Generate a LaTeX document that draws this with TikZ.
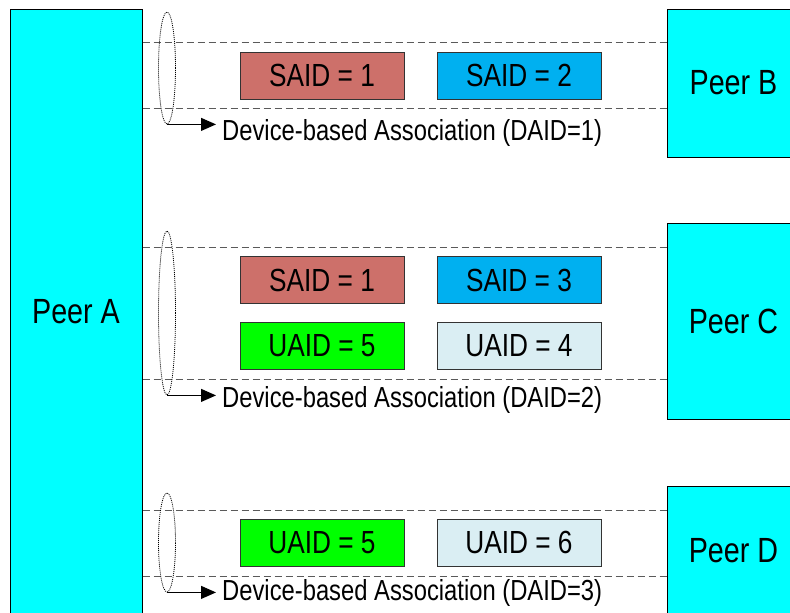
\documentclass[tikz,border=0pt]{standalone}
\usepackage{fontspec}
\setmainfont{Liberation Sans}[FakeStretch=0.82]
\usetikzlibrary{arrows.meta,shapes.geometric}
\definecolor{peercyan}{RGB}{0,255,255}
\definecolor{saidred}{RGB}{205,112,106}
\definecolor{saidblue}{RGB}{0,176,240}
\definecolor{uaidgreen}{RGB}{0,255,0}
\definecolor{uaidlight}{RGB}{218,238,243}
\definecolor{dashgray}{RGB}{90,90,90}
\tikzset{
  peer/.style={draw=black, line width=1pt, fill=peercyan, inner sep=0pt, font=\fontsize{35}{40}\selectfont},
  idbox/.style={draw=black!80, line width=0.8pt, minimum width=164pt, minimum height=47pt, inner sep=0pt, font=\fontsize{32}{36}\selectfont},
  dashline/.style={draw=dashgray, line width=0.9pt, dash pattern=on 7pt off 4pt},
  assoc/.style={ellipse, draw=black, dash pattern=on 1pt off 1pt, line width=0.8pt, minimum width=17pt, inner sep=0pt},
  assocarrow/.style={draw=black, line width=1.1pt, -{Triangle[length=15pt,width=13pt]}},
  assoclabel/.style={anchor=west, inner sep=0pt, font=\fontsize{29}{33}\selectfont}
}
\begin{document}
\begin{tikzpicture}[x=1pt,y=-1pt]
\useasboundingbox (0,0) rectangle (790,613);
\clip (0,0) rectangle (790,613);
% peers
\node[peer, minimum width=132pt, minimum height=606pt] (A) at (76,312) {Peer A};
\node[peer, minimum width=133pt, minimum height=148pt] (B) at (733.5,83) {Peer B};
\node[peer, minimum width=133pt, minimum height=196pt] (C) at (733.5,321) {Peer C};
\node[peer, minimum width=133pt, minimum height=130pt] (D) at (733.5,551) {Peer D};
% dashed line levels
\coordinate (l1) at (0,42);
\coordinate (l2) at (0,108);
\coordinate (l3) at (0,247);
\coordinate (l4) at (0,379);
\coordinate (l5) at (0,510);
\coordinate (l6) at (0,576);
\draw[dashline] (A.east |- l1) -- (B.west |- l1);
\draw[dashline] (A.east |- l2) -- (B.west |- l2);
\draw[dashline] (A.east |- l3) -- (C.west |- l3);
\draw[dashline] (A.east |- l4) -- (C.west |- l4);
\draw[dashline] (A.east |- l5) -- (D.west |- l5);
\draw[dashline] (A.east |- l6) -- (D.west |- l6);
% id boxes
\node[idbox, fill=saidred] (s11) at (322,75.5) {SAID = 1};
\node[idbox, fill=saidblue] (s12) at (519,75.5) {SAID = 2};
\node[idbox, fill=saidred] (s21) at (322,280) {SAID = 1};
\node[idbox, fill=saidblue] (s23) at (519,280) {SAID = 3};
\node[idbox, fill=uaidgreen] (u25) at (322,345.5) {UAID = 5};
\node[idbox, fill=uaidlight] (u24) at (519,345.5) {UAID = 4};
\node[idbox, fill=uaidgreen] (u35) at (322,542.5) {UAID = 5};
\node[idbox, fill=uaidlight] (u36) at (519,542.5) {UAID = 6};
% association ellipses
\node[assoc, minimum height=112pt] (e1) at (167,68) {};
\node[assoc, minimum height=164pt] (e2) at (167,313) {};
\node[assoc, minimum height=99pt] (e3) at (167,542.5) {};
% arrows and labels
\node[assoclabel] (t1) at (222,133) {Device-based Association (DAID=1)};
\node[assoclabel] (t2) at (222,400) {Device-based Association (DAID=2)};
\node[assoclabel] (t3) at (222,593) {Device-based Association (DAID=3)};
\draw[assocarrow] (e1.south) -- ++(49,0) coordinate (a1);
\draw[assocarrow] (e2.south) -- ++(49,0) coordinate (a2);
\draw[assocarrow] (e3.south) -- ++(49,0) coordinate (a3);
\end{tikzpicture}
\end{document}
